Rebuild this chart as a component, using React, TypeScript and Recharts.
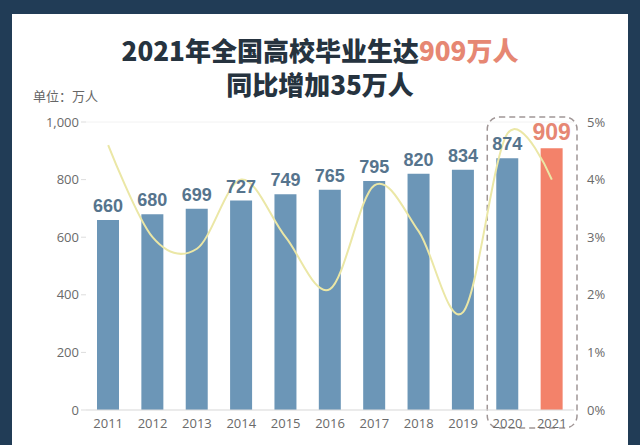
import React from 'react'
import {
  ComposedChart,
  Bar,
  Line,
  XAxis,
  YAxis,
  CartesianGrid,
  Cell,
  LabelList,
  ReferenceArea,
} from 'recharts'

// graduates per year (万人) and year-on-year growth (%)
const years = ['2011', '2012', '2013', '2014', '2015', '2016', '2017', '2018', '2019', '2020', '2021']
const graduates = [660, 680, 699, 727, 749, 765, 795, 820, 834, 874, 909]
const growthRate = [4.6, 3.0, 2.8, 4.0, 3.0, 2.1, 3.9, 3.1, 1.7, 4.8, 4.0]
const leftTicks = [0, 200, 400, 600, 800, 1000]
const rightTicks = [0, 1, 2, 3, 4, 5]
const highlightYear = '2021'
const boxFrom = '2020'
const boxTo = '2021'

const chartData = years.map((year, i) => ({
  year,
  graduates: graduates[i],
  growth: growthRate[i],
}))

const BAR_BLUE = '#6c96b7'
const BAR_RED = '#f3826a'
const LABEL_BLUE = '#56748d'
const LABEL_RED = '#e68773'
const TITLE = '#26333f'

// Catmull-Rom style smoothing (same maths as d3's curveCardinal, tension 0),
// the reference line looks like a spreadsheet "smooth line"
const smoothCurve = (context: any) => {
  const k = 1 / 6
  let x0 = NaN, x1 = NaN, x2 = NaN, y0 = NaN, y1 = NaN, y2 = NaN
  let n = 0
  let line: number = NaN
  const seg = (x: number, y: number) => {
    context.bezierCurveTo(
      x1 + k * (x2 - x0),
      y1 + k * (y2 - y0),
      x2 + k * (x1 - x),
      y2 + k * (y1 - y),
      x2,
      y2
    )
  }
  return {
    areaStart() { line = 0 },
    areaEnd() { line = NaN },
    lineStart() {
      x0 = x1 = x2 = y0 = y1 = y2 = NaN
      n = 0
    },
    lineEnd() {
      if (n === 2) context.lineTo(x2, y2)
      else if (n === 3) seg(x1, y1)
      if (line || (line !== 0 && n === 1)) context.closePath()
      line = 1 - line
    },
    point(xIn: number, yIn: number) {
      const x = +xIn
      const y = +yIn
      if (n === 0) {
        n = 1
        if (line) context.lineTo(x, y)
        else context.moveTo(x, y)
      } else if (n === 1) {
        n = 2
        x1 = x
        y1 = y
      } else {
        n = 3
        seg(x, y)
      }
      x0 = x1; x1 = x2; x2 = x
      y0 = y1; y1 = y2; y2 = y
    },
  }
}

// numbers above each bar; the highlighted year gets the bigger red label
const BarValue = (props: any) => {
  const { x, y, width, value, index } = props
  const hot = years[index] === highlightYear
  return (
    <text
      x={Number(x) + Number(width) / 2}
      y={Number(y) - 8}
      textAnchor="middle"
      fill={hot ? LABEL_RED : LABEL_BLUE}
      fontFamily="'Liberation Sans', Arial, sans-serif"
      fontWeight={700}
      fontSize={hot ? 23 : 18}
    >
      {value}
    </text>
  )
}

// dashed rounded box around the last two years
const DashedBox = (props: any) => {
  const { x, y, width, height } = props
  return (
    <rect
      x={x + 2}
      y={y - 5}
      width={width + 1}
      height={height + 23}
      rx={12}
      ry={12}
      fill="none"
      stroke="#a09696"
      strokeWidth={1.5}
      strokeDasharray="6 4"
    />
  )
}

export default function App() {
  return (
    <div
      style={{
        position: 'absolute',
        left: 0,
        top: 0,
        width: 640,
        height: 445,
        background: '#213c56',
        overflow: 'hidden',
      }}
    >
      <div
        style={{
          position: 'absolute',
          left: 12,
          top: 14,
          width: 616,
          height: 431,
          background: '#ffffff',
        }}
      />
      <div
        style={{
          position: 'absolute',
          left: 0,
          top: 33,
          width: 640,
          textAlign: 'center',
          fontFamily: "'Noto Sans CJK SC', sans-serif",
          fontWeight: 900,
          fontSize: 26,
          lineHeight: '34px',
          color: TITLE,
        }}
      >
        <div>
          2021年全国高校毕业生达<span style={{ color: LABEL_RED }}>909万人</span>
        </div>
        <div>同比增加35万人</div>
      </div>
      <div
        style={{
          position: 'absolute',
          left: 33,
          top: 86,
          fontFamily: "'Noto Sans CJK SC', sans-serif",
          fontSize: 13,
          color: '#666',
        }}
      >
        单位：万人
      </div>
      <div style={{ position: 'absolute', left: 0, top: 0 }}>
        <ComposedChart
          width={640}
          height={445}
          data={chartData}
          margin={{ top: 122, right: 16, bottom: 0, left: 36 }}
        >
          <CartesianGrid vertical={false} stroke="#f2f2f2" />
          <XAxis
            dataKey="year"
            height={35}
            tickLine={false}
            tickSize={0}
            tickMargin={9}
            axisLine={{ stroke: '#dddddd' }}
            tick={{ fill: '#6a6a6a', fontSize: 13, fontFamily: "'Open Sans', sans-serif" }}
            interval={0}
          />
          <YAxis
            yAxisId="left"
            width={50}
            domain={[0, 1000]}
            ticks={leftTicks}
            axisLine={false}
            tickLine={{ stroke: '#dddddd' }}
            tickSize={5}
            tickMargin={2}
            tickFormatter={(v: number) => v.toLocaleString('en-US')}
            tick={{ fill: '#6a6a6a', fontSize: 13, fontFamily: "'Open Sans', sans-serif" }}
          />
          <YAxis
            yAxisId="right"
            orientation="right"
            width={50}
            domain={[0, 5]}
            ticks={rightTicks}
            axisLine={false}
            tickLine={false}
            tickMargin={7}
            tickFormatter={(v: number) => `${v}%`}
            tick={{ fill: '#6a6a6a', fontSize: 13, fontFamily: "'Open Sans', sans-serif" }}
          />
          <ReferenceArea
            yAxisId="left"
            x1={boxFrom}
            x2={boxTo}
            ifOverflow="visible"
            shape={DashedBox}
          />
          <Bar yAxisId="left" dataKey="graduates" barSize={22} isAnimationActive={false}>
            {chartData.map((d) => (
              <Cell key={d.year} fill={d.year === highlightYear ? BAR_RED : BAR_BLUE} />
            ))}
            <LabelList dataKey="graduates" content={BarValue} />
          </Bar>
          <Line
            yAxisId="right"
            type={smoothCurve as any}
            dataKey="growth"
            stroke="#ebe7a6"
            strokeWidth={2}
            dot={false}
            activeDot={false}
            isAnimationActive={false}
          />
        </ComposedChart>
      </div>
    </div>
  )
}
